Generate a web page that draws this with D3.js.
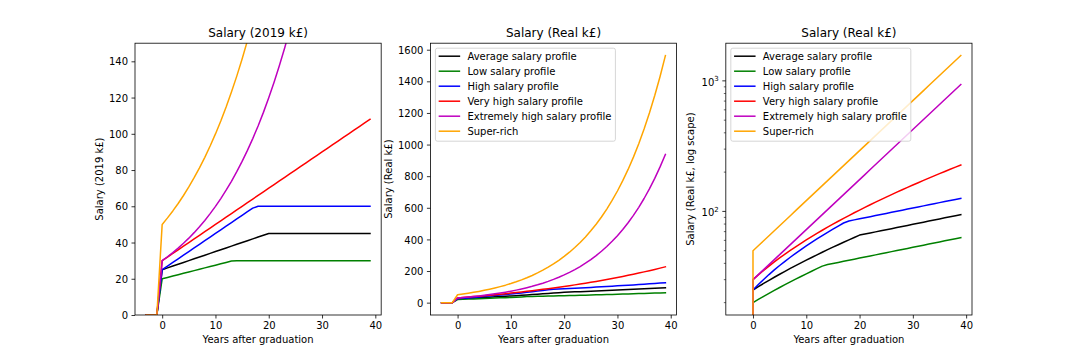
<!DOCTYPE html>
<html><head><meta charset="utf-8">
<script src="https://cdn.jsdelivr.net/npm/d3@7"></script>
<style>
body{margin:0;background:#fff}
text{font-family:"DejaVu Sans",sans-serif;fill:#000}
</style>
</head><body>
<svg id="c" width="1080" height="360"></svg>
<script>
// ---------------- DATA ----------------
const years = [-3,-2,-1,0,1,2,3,4,5,6,7,8,9,10,11,12,13,14,15,16,17,18,19,20,21,22,23,24,25,26,27,28,29,30,31,32,33,34,35,36,37,38,39];

const seriesNames = ["Average salary profile","Low salary profile","High salary profile","Very high salary profile","Extremely high salary profile","Super-rich"];
const seriesColors = ["#000000","#008000","#0000ff","#ff0000","#bf00bf","#ffa500"];

// Salary in 2019 k£
const avg2019 = [0,0,0,25,26,27,28,29,30,31,32,33,34,35,36,37,38,39,40,41,42,43,44,45,45,45,45,45,45,45,45,45,45,45,45,45,45,45,45,45,45,45,45];
const low2019 = [0,0,0,20,20.75,21.5,22.25,23,23.75,24.5,25.25,26,26.75,27.5,28.25,29,29.75,30,30,30,30,30,30,30,30,30,30,30,30,30,30,30,30,30,30,30,30,30,30,30,30,30,30];
const high2019 = [0,0,0,25,27,29,31,33,35,37,39,41,43,45,47,49,51,53,55,57,59,60,60,60,60,60,60,60,60,60,60,60,60,60,60,60,60,60,60,60,60,60,60];
const vhigh2019 = [0,0,0,30,32,34,36,38,40,42,44,46,48,50,52,54,56,58,60,62,64,66,68,70,72,74,76,78,80,82,84,86,88,90,92,94,96,98,100,102,104,106,108];
const xhigh2019 = [0,0,0,30,32.15,34.46,36.93,39.57,42.41,45.45,48.71,52.20,55.95,59.96,64.26,68.87,73.80,79.10,84.77,90.84,97.36,104.34,111.82,119.84,128.43,137.64,147.51,158.08,169.42,181.56,194.58,208.53,223.49,239.51,256.68,275.09,294.81,315.95,338.60,362.88,388.90,416.78,446.67];
const super2019 = [0,0,0,50,53.59,57.43,61.54,65.96,70.69,75.76,81.19,87.01,93.25,99.93,107.10,114.78,123.01,131.83,141.28,151.41,162.26,173.90,186.37,199.73,214.05,229.40,245.84,263.47,282.36,302.61,324.30,347.56,372.48,399.18,427.81,458.48,491.35,526.58,564.34,604.80,648.17,694.64,744.45];

// Salary in real k£
const avgReal = [0,0,0,25,26.50,28.05,29.64,31.29,32.99,34.75,36.56,38.42,40.35,42.33,44.38,46.49,48.66,50.90,53.20,55.58,58.03,60.55,63.15,65.83,67.09,68.38,69.69,71.03,72.39,73.78,75.20,76.64,78.12,79.61,81.14,82.70,84.29,85.91,87.56,89.24,90.95,92.70,94.48];
const lowReal = [0,0,0,20,21.15,22.33,23.56,24.82,26.12,27.46,28.85,30.27,31.74,33.26,34.82,36.43,38.09,39.15,39.90,40.67,41.45,42.25,43.06,43.88,44.73,45.59,46.46,47.35,48.26,49.19,50.13,51.10,52.08,53.08,54.10,55.13,56.19,57.27,58.37,59.49,60.63,61.80,62.99];
const highReal = [0,0,0,25,27.52,30.12,32.82,35.61,38.49,41.47,44.55,47.74,51.03,54.43,57.94,61.56,65.30,69.17,73.16,77.27,81.52,84.49,86.12,87.77,89.45,91.17,92.92,94.71,96.52,98.38,100.27,102.19,104.15,106.15,108.19,110.27,112.39,114.54,116.74,118.98,121.27,123.60,125.97];
const vhighReal = [0,0,0,30,32.61,35.32,38.11,41.00,43.99,47.08,50.27,53.56,56.96,60.47,64.10,67.84,71.71,75.69,79.81,84.05,88.43,92.94,97.60,102.40,107.34,112.44,117.70,123.12,128.70,134.45,140.37,146.47,152.76,159.23,165.89,172.75,179.82,187.09,194.57,202.27,210.20,218.35,226.75];
const xhighReal = [0,0,0,30,32.77,35.79,39.09,42.70,46.64,50.95,55.65,60.78,66.39,72.52,79.21,86.52,94.50,103.22,112.75,123.15,134.52,146.93,160.49,175.30,191.48,209.15,228.45,249.53,272.55,297.70,325.17,355.18,387.95,423.75,462.86,505.57,552.22,603.18,658.84,719.63,786.04,858.58,937.81];
const superReal = [0,0,0,50,54.61,59.65,65.16,71.17,77.74,84.91,92.75,101.31,110.65,120.87,132.02,144.20,157.51,172.04,187.92,205.26,224.20,244.89,267.48,292.17,319.13,348.58,380.75,415.88,454.25,496.17,541.95,591.97,646.59,706.26,771.43,842.61,920.36,1005.30,1098.06,1199.39,1310.06,1430.96,1563.01];

const xTicks = [0,10,20,30,40];
const yTicks2019 = [0,20,40,60,80,100,120,140];
const yTicksReal = [0,200,400,600,800,1000,1200,1400,1600];
const yTicksLog = [100,1000];
const yTickLabelsLog = [["10","2"],["10","3"]];
const yMinorLog = [20,30,40,50,60,70,80,90,200,300,400,500,600,700,800,900];

// ---------------- LAYOUT ----------------
const W = 246.18, TOP = 43.2, BOTTOM = 315;
const svg = d3.select("#c");

const panels = [
  {left:135, title:"Salary (2019 k£)", ylabel:"Salary (2019 k£)", ylabelX:102.5,
   data:[avg2019,low2019,high2019,vhigh2019,xhigh2019,super2019], yFixed:[0,150], yTicks:yTicks2019, log:false, legend:false},
  {left:430.41, title:"Salary (Real k£)", ylabel:"Salary (Real k£)", ylabelX:391.5,
   data:[avgReal,lowReal,highReal,vhighReal,xhighReal,superReal], yTicks:yTicksReal, log:false, legend:true},
  {left:725.82, title:"Salary (Real k£)", ylabel:"Salary (Real k£, log scape)", ylabelX:694,
   data:[avgReal,lowReal,highReal,vhighReal,xhighReal,superReal], yTicks:yTicksLog, log:true, legend:true}
];

function pad(lo, hi){ const m=(hi-lo)*0.05; return [lo-m, hi+m]; }

panels.forEach((p, pi) => {
  const g = svg.append("g");
  const x = d3.scaleLinear().domain(pad(d3.min(years), d3.max(years))).range([p.left, p.left+W]);
  let y;
  const all = p.data.flat();
  if (p.log) {
    const pos = all.filter(v => v > 0);
    const d = pad(Math.log10(d3.min(pos)), Math.log10(d3.max(pos)));
    y = d3.scaleLog().domain([10**d[0], 10**d[1]]).range([BOTTOM, TOP]);
  } else if (p.yFixed) {
    y = d3.scaleLinear().domain(p.yFixed).range([BOTTOM, TOP]);
  } else {
    y = d3.scaleLinear().domain(pad(d3.min(all), d3.max(all))).range([BOTTOM, TOP]);
  }

  const clipId = "clip" + pi;
  svg.append("clipPath").attr("id", clipId).append("rect")
    .attr("x", p.left).attr("y", TOP).attr("width", W).attr("height", BOTTOM-TOP);

  const line = d3.line()
    .x((d,i) => x(years[i]))
    .y(d => y(p.log && d <= 0 ? 1e-300 : d));

  const lg = g.append("g").attr("clip-path", `url(#${clipId})`);
  p.data.forEach((s, si) => {
    lg.append("path").attr("d", line(s)).attr("fill","none")
      .attr("stroke", seriesColors[si]).attr("stroke-width",1.5)
      .attr("stroke-linejoin","round").attr("stroke-linecap","square");
  });

  // x axis
  const xa = g.append("g").attr("transform", `translate(0,${BOTTOM})`)
    .call(d3.axisBottom(x).tickValues(xTicks).tickSize(3.5).tickPadding(3.5).tickFormat(d3.format("d")));
  xa.select(".domain").remove();
  xa.selectAll("line").attr("stroke","#000").attr("stroke-width",0.8);
  xa.selectAll("text").attr("font-size",10).attr("fill","#000").attr("font-family","DejaVu Sans");

  // y axis
  const yaG = g.append("g").attr("transform", `translate(${p.left},0)`);
  if (!p.log) {
    yaG.call(d3.axisLeft(y).tickValues(p.yTicks).tickSize(3.5).tickPadding(3.5).tickFormat(d3.format("d")));
    yaG.select(".domain").remove();
    yaG.selectAll("line").attr("stroke","#000").attr("stroke-width",0.8);
    yaG.selectAll("text").attr("font-size",10).attr("fill","#000").attr("dy","0.36em").attr("font-family","DejaVu Sans");
  } else {
    yMinorLog.forEach(v => {
      yaG.append("line").attr("x1",0).attr("x2",-2).attr("y1",y(v)).attr("y2",y(v))
        .attr("stroke","#000").attr("stroke-width",0.6);
    });
    p.yTicks.forEach((v,i) => {
      yaG.append("line").attr("x1",0).attr("x2",-3.5).attr("y1",y(v)).attr("y2",y(v))
        .attr("stroke","#000").attr("stroke-width",0.8);
      const t = yaG.append("text").attr("x",-7).attr("y",y(v)+5).attr("text-anchor","end").attr("font-size",10);
      t.append("tspan").text(yTickLabelsLog[i][0]);
      t.append("tspan").attr("font-size",7).attr("dy",-4.4).text(yTickLabelsLog[i][1]);
    });
  }

  // spines
  g.append("rect").attr("x",p.left).attr("y",TOP).attr("width",W).attr("height",BOTTOM-TOP)
    .attr("fill","none").attr("stroke","#000").attr("stroke-width",0.8);

  // title & labels
  g.append("text").attr("x", p.left+W/2).attr("y", 37.2).attr("text-anchor","middle")
    .attr("font-size",12).text(p.title);
  g.append("text").attr("x", p.left+W/2).attr("y", 343.3).attr("text-anchor","middle")
    .attr("font-size",10).text("Years after graduation");
  g.append("text").attr("transform", `translate(${p.ylabelX},${(TOP+BOTTOM)/2}) rotate(-90)`)
    .attr("text-anchor","middle").attr("font-size",10).text(p.ylabel);

  // legend
  if (p.legend) {
    const fx = p.left + 5, fy = TOP + 5;
    const leg = g.append("g");
    const frame = leg.append("rect").attr("x",fx).attr("y",fy).attr("rx",2).attr("ry",2)
      .attr("fill","#fff").attr("fill-opacity",0.8)
      .attr("stroke","#cccccc").attr("stroke-opacity",0.8).attr("stroke-width",1);
    let maxW = 0;
    seriesNames.forEach((n, i) => {
      const hy = fy + 8 + i*15;
      leg.append("line").attr("x1",fx+4).attr("x2",fx+24).attr("y1",hy).attr("y2",hy)
        .attr("stroke",seriesColors[i]).attr("stroke-width",1.5).attr("stroke-linecap","square");
      const t = leg.append("text").attr("x",fx+32).attr("y",fy+11.8+i*15).attr("font-size",10).text(n);
      maxW = Math.max(maxW, t.node().getComputedTextLength());
    });
    frame.attr("width", 32 + maxW + 4).attr("height", 93);
  }
});
</script>
</body></html>
